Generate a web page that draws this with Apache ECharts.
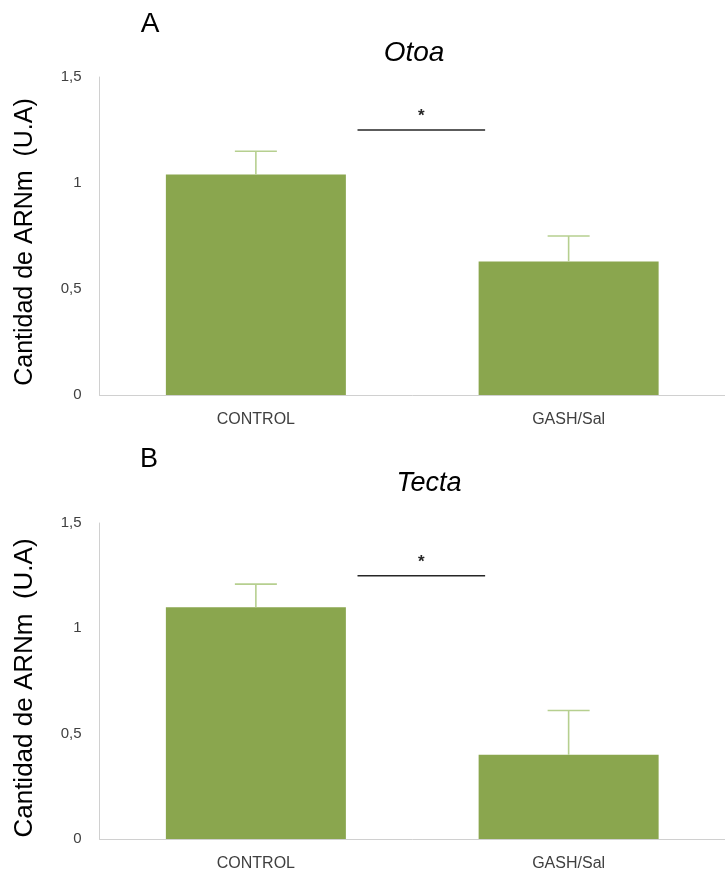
<!DOCTYPE html>
<html>
<head>
<meta charset="utf-8">
<script src="https://cdn.jsdelivr.net/npm/echarts@6/dist/echarts.min.js"></script>
<style>
html,body{margin:0;padding:0;background:#fff;}
#chart{width:725px;height:872px;}
</style>
</head>
<body>
<div id="chart"></div>
<script>
// ---- data ----
const categories = ['CONTROL', 'GASH/Sal'];
const otoaMeans = [1.04, 0.63];
const otoaErr = [0.11, 0.12];
const tectaMeans = [1.10, 0.40];
const tectaErr = [0.11, 0.21];
const yTickValues = [0, 0.5, 1, 1.5];
const yTickLabels = ['0', '0,5', '1', '1,5'];
const sigLevel = [1.25, 1.25];          // height of significance bar (A, B)
const sigSpan = [0.325, 0.733];          // from / to, in category units past CONTROL
const sigMark = '*';
const panelTitles = ['Otoa', 'Tecta'];
const panelLetters = ['A', 'B'];
const yName = 'Cantidad de ARNm  (U.A)';

// ---- styles ----
const barColor = '#8aa64e';
const errColor = '#b6cf8f';
const axisColor = '#d0d0d0';
const textColor = '#404040';
const font = "'Liberation Sans', Arial, sans-serif";

const chart = echarts.init(document.getElementById('chart'));

function errSeries(idx, means, errs) {
  return {
    type: 'custom', xAxisIndex: idx, yAxisIndex: idx, z: 5,
    data: means.map((m, i) => [i, m, m + errs[i]]),
    renderItem: function (params, api) {
      const p0 = api.coord([api.value(0), api.value(1)]);
      const p1 = api.coord([api.value(0), api.value(2)]);
      const hw = 21;
      const st = { stroke: errColor, lineWidth: 1.6 };
      return { type: 'group', children: [
        { type: 'line', shape: { x1: p0[0], y1: p0[1], x2: p1[0], y2: p1[1] }, style: st },
        { type: 'line', shape: { x1: p1[0] - hw, y1: p1[1], x2: p1[0] + hw, y2: p1[1] }, style: st }
      ]};
    }
  };
}

function sigSeries(idx) {
  return {
    type: 'custom', xAxisIndex: idx, yAxisIndex: idx, z: 6,
    data: [[0, sigLevel[idx], sigSpan[0], sigSpan[1]]],
    renderItem: function (params, api) {
      const c = api.coord([api.value(0), api.value(1)]);
      const bw = api.size([1, 0])[0];
      const x1 = c[0] + api.value(2) * bw;
      const x2 = c[0] + api.value(3) * bw;
      return { type: 'group', children: [
        { type: 'line', shape: { x1: x1, y1: c[1], x2: x2, y2: c[1] }, style: { stroke: '#262626', lineWidth: 1.5 } },
        { type: 'text', x: (x1 + x2) / 2, y: c[1] - 5,
          style: { text: sigMark, fill: '#262626', font: 'bold 17px ' + font, align: 'center', verticalAlign: 'bottom' } }
      ]};
    }
  };
}

const grids = [
  { left: 99.5, top: 77, width: 629.5, height: 318 },
  { left: 99.5, top: 523, width: 629.5, height: 316 }
];

const xAxes = grids.map((g, i) => ({
  type: 'category', gridIndex: i, data: categories,
  axisLine: { lineStyle: { color: axisColor, width: 1 } },
  axisTick: { show: false },
  axisLabel: { color: textColor, fontFamily: font, fontSize: 16, margin: 17 }
}));

const yAxes = grids.map((g, i) => ({
  type: 'value', gridIndex: i, min: 0, max: 1.5, interval: 0.5,
  axisLine: { show: true, lineStyle: { color: axisColor, width: 1 } },
  axisTick: { show: false },
  splitLine: { show: false },
  axisLabel: {
    color: textColor, fontFamily: font, fontSize: 15, margin: 18,
    formatter: v => { const k = yTickValues.indexOf(v); return k >= 0 ? yTickLabels[k] : ''; }
  }
}));

const graphics = [
  { type: 'text', x: 150, y: 24, style: { text: panelLetters[0], font: '28px ' + font, fill: '#000', align: 'center', verticalAlign: 'middle' } },
  { type: 'text', x: 149, y: 460, style: { text: panelLetters[1], font: '27px ' + font, fill: '#000', align: 'center', verticalAlign: 'middle' } },
  { type: 'text', x: 414, y: 53, style: { text: panelTitles[0], font: 'italic 28px ' + font, fill: '#000', align: 'center', verticalAlign: 'middle' } },
  { type: 'text', x: 429, y: 483, style: { text: panelTitles[1], font: 'italic 27px ' + font, fill: '#000', align: 'center', verticalAlign: 'middle' } },
  { type: 'text', x: 25, y: 242, rotation: Math.PI / 2, style: { text: yName, font: '25px ' + font, fill: '#000', align: 'center', verticalAlign: 'middle' } },
  { type: 'text', x: 25, y: 688, rotation: Math.PI / 2, style: { text: yName, font: '26px ' + font, fill: '#000', align: 'center', verticalAlign: 'middle' } }
];

chart.setOption({
  animation: false,
  backgroundColor: '#fff',
  grid: grids,
  xAxis: xAxes,
  yAxis: yAxes,
  graphic: graphics,
  series: [
    { type: 'bar', xAxisIndex: 0, yAxisIndex: 0, data: otoaMeans, barWidth: 180, itemStyle: { color: barColor } },
    errSeries(0, otoaMeans, otoaErr),
    sigSeries(0),
    { type: 'bar', xAxisIndex: 1, yAxisIndex: 1, data: tectaMeans, barWidth: 180, itemStyle: { color: barColor } },
    errSeries(1, tectaMeans, tectaErr),
    sigSeries(1)
  ]
});
</script>
</body>
</html>
